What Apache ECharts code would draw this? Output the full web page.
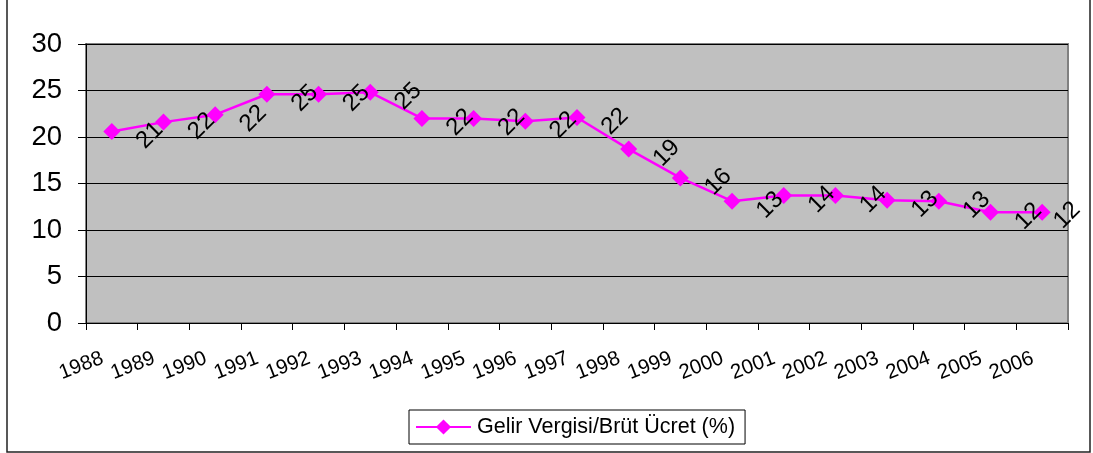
<!DOCTYPE html>
<html>
<head>
<meta charset="utf-8">
<script src="https://cdn.jsdelivr.net/npm/echarts@6/dist/echarts.min.js"></script>
<style>
html,body{margin:0;padding:0;background:#fff;}
#chart{width:1093px;height:453px;}
</style>
</head>
<body>
<div id="chart"></div>
<script>
const years = ['1988','1989','1990','1991','1992','1993','1994','1995','1996','1997','1998','1999','2000','2001','2002','2003','2004','2005','2006'];
const seriesName = 'Gelir Vergisi/Brüt Ücret (%)';
const values = [20.6, 21.6, 22.4, 24.6, 24.6, 24.8, 22.0, 22.0, 21.7, 22.1, 18.7, 15.6, 13.1, 13.7, 13.7, 13.2, 13.1, 11.9, 11.9];
const yTicks = [0, 5, 10, 15, 20, 25, 30];

const FONT = '"Liberation Sans", Arial, sans-serif';
const chart = echarts.init(document.getElementById('chart'), null, {renderer: 'canvas'});

const seriesData = values.map((v, i) => {
  const item = {value: v};
  if (i === values.length - 1) {
    item.label = {position: [33.5, 11.5]};
  }
  return item;
});

chart.setOption({
  backgroundColor: '#fff',
  animation: false,
  graphic: [{
    type: 'rect',
    shape: {x: 7, y: -5, width: 1083, height: 457},
    style: {fill: 'none', stroke: '#222', lineWidth: 1.5},
    z: 100, silent: true
  }],
  grid: {
    left: 86, top: 44, right: 25, bottom: 130,
    show: true, backgroundColor: '#C0C0C0', borderColor: '#808080', borderWidth: 2
  },
  legend: {
    data: [seriesName],
    left: 409, top: 410,
    orient: 'horizontal',
    backgroundColor: '#fff',
    borderColor: '#000', borderWidth: 1, borderRadius: 0,
    padding: [6, 10, 6, 6],
    itemWidth: 55, itemHeight: 19, itemGap: 5,
    textStyle: {fontFamily: FONT, fontSize: 21.5, color: '#000', padding: [0, 0, 0, 1]}
  },
  xAxis: {
    type: 'category',
    data: years,
    boundaryGap: true,
    axisLine: {show: true, lineStyle: {color: '#000', width: 1}},
    axisTick: {show: true, length: 7, lineStyle: {color: '#000'}},
    axisLabel: {
      interval: 0, rotate: 21, margin: 31, padding: [0, 10, 0, 0],
      fontFamily: FONT, fontSize: 20.5, color: '#000'
    },
    splitLine: {show: false}
  },
  yAxis: {
    type: 'value',
    min: yTicks[0], max: yTicks[yTicks.length - 1], interval: 5,
    axisLine: {show: true, lineStyle: {color: '#000', width: 1}},
    axisTick: {show: true, length: 8, lineStyle: {color: '#000'}},
    axisLabel: {margin: 24, fontFamily: FONT, fontSize: 27.5, color: '#000'},
    splitLine: {show: true, lineStyle: {color: '#000', width: 1}}
  },
  series: [{
    name: seriesName,
    type: 'line',
    data: seriesData,
    symbol: 'diamond',
    symbolSize: 17,
    itemStyle: {color: '#FF00FF'},
    lineStyle: {color: '#FF00FF', width: 2.5},
    label: {
      show: true,
      position: [46.5, 12.5],
      rotate: 45,
      align: 'center',
      verticalAlign: 'middle',
      fontFamily: FONT, fontSize: 24, color: '#000',
      formatter: p => String(Math.round(p.value))
    },
    labelLayout: {hideOverlap: false}
  }]
});
</script>
</body>
</html>
